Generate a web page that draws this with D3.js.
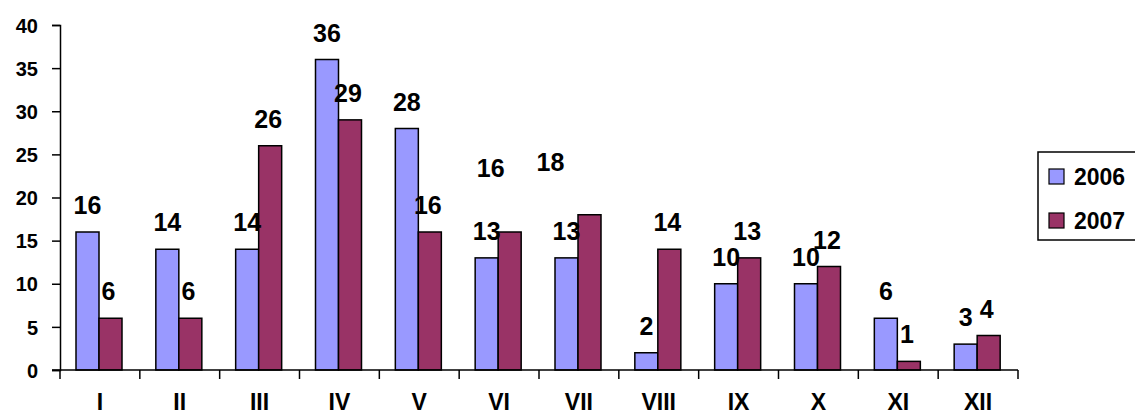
<!DOCTYPE html>
<html>
<head>
<meta charset="utf-8">
<script src="https://cdn.jsdelivr.net/npm/d3@7"></script>
<style>
  html, body { margin: 0; padding: 0; background: #fff; }
  svg { display: block; }
  text { font-family: "Liberation Sans", Arial, sans-serif; font-weight: bold; fill: #000; }
</style>
</head>
<body>
<svg id="chart" width="1135" height="416"></svg>
<script>
// ---- data ----
const categories = ["I","II","III","IV","V","VI","VII","VIII","IX","X","XI","XII"];
const seriesNames = ["2006","2007"];
const values2006 = [16,14,14,36,28,13,13,2,10,10,6,3];
const values2007 = [6,6,26,29,16,16,18,14,13,12,1,4];
const yTicks = [0,5,10,15,20,25,30,35,40];
const colors = ["#9999FF","#993366"];
// label nudges (layout only): [seriesIndex, categoryIndex, dx, dy]
const labelNudges = [[1,5,-17,-37],[1,6,-37,-26]];

const svg = d3.select("#chart");
const x0 = d3.scaleBand().domain(categories).range([60, 1018]).padding(0);
const x1 = d3.scaleBand().domain(seriesNames).range([16, 62]).padding(0);
const y = d3.scaleLinear().domain([0, 40]).range([370, 25]);

const series = [values2006, values2007];

// bars
series.forEach((vals, si) => {
  svg.append("g").selectAll("rect")
    .data(vals)
    .join("rect")
    .attr("x", (d, i) => x0(categories[i]) + x1(seriesNames[si]))
    .attr("y", d => y(d))
    .attr("width", x1.bandwidth())
    .attr("height", d => y(0) - y(d))
    .attr("fill", colors[si])
    .attr("stroke", "#000")
    .attr("stroke-width", 1.5);
});

// y axis
const yAxis = svg.append("g").attr("transform", "translate(60,0)")
  .call(d3.axisLeft(y).tickValues(yTicks).tickSize(8).tickPadding(14));
yAxis.select(".domain").attr("stroke", "#000").attr("stroke-width", 1.5);
yAxis.selectAll(".tick line").attr("stroke", "#000").attr("stroke-width", 1.5);
yAxis.selectAll(".tick text").style("font-size", "20px").style("font-weight", "bold")
  .style("font-family", "'Liberation Sans', Arial, sans-serif").attr("dy", "0.36em");

// x axis line
svg.append("line").attr("x1", 52).attr("x2", 1018).attr("y1", y(0)).attr("y2", y(0))
  .attr("stroke", "#000").attr("stroke-width", 1.5);
// category ticks at band boundaries
const boundaries = categories.map(c => x0(c)).concat([x0.range()[1]]);
svg.append("g").selectAll("line").data(boundaries).join("line")
  .attr("x1", d => d).attr("x2", d => d)
  .attr("y1", y(0)).attr("y2", y(0) + 9)
  .attr("stroke", "#000").attr("stroke-width", 1.5);
// category labels
svg.append("g").selectAll("text").data(categories).join("text")
  .attr("x", d => x0(d) + x0.bandwidth() / 2)
  .attr("y", 410)
  .attr("text-anchor", "middle")
  .style("font-size", "23px")
  .text(d => d);

// data labels
series.forEach((vals, si) => {
  svg.append("g").selectAll("text")
    .data(vals)
    .join("text")
    .attr("x", (d, i) => {
      const n = labelNudges.find(n => n[0] === si && n[1] === i);
      return x0(categories[i]) + x1(seriesNames[si]) + x1.bandwidth() / 2 + (si === 0 ? 0 : -2) + (n ? n[2] : 0);
    })
    .attr("y", (d, i) => {
      const n = labelNudges.find(n => n[0] === si && n[1] === i);
      return y(d) - 18 + (n ? n[3] : 0);
    })
    .attr("text-anchor", "middle")
    .style("font-size", "25px")
    .text(d => d);
});

// legend
const lg = svg.append("g");
lg.append("rect").attr("x", 1038).attr("y", 152).attr("width", 120).attr("height", 88)
  .attr("fill", "#fff").attr("stroke", "#000").attr("stroke-width", 1.5);
seriesNames.forEach((s, i) => {
  lg.append("rect").attr("x", 1049).attr("y", 169 + i * 44).attr("width", 15).attr("height", 15)
    .attr("fill", colors[i]).attr("stroke", "#000").attr("stroke-width", 1.2);
  lg.append("text").attr("x", 1074).attr("y", 185 + i * 44)
    .style("font-size", "23px").text(s);
});
</script>
</body>
</html>
